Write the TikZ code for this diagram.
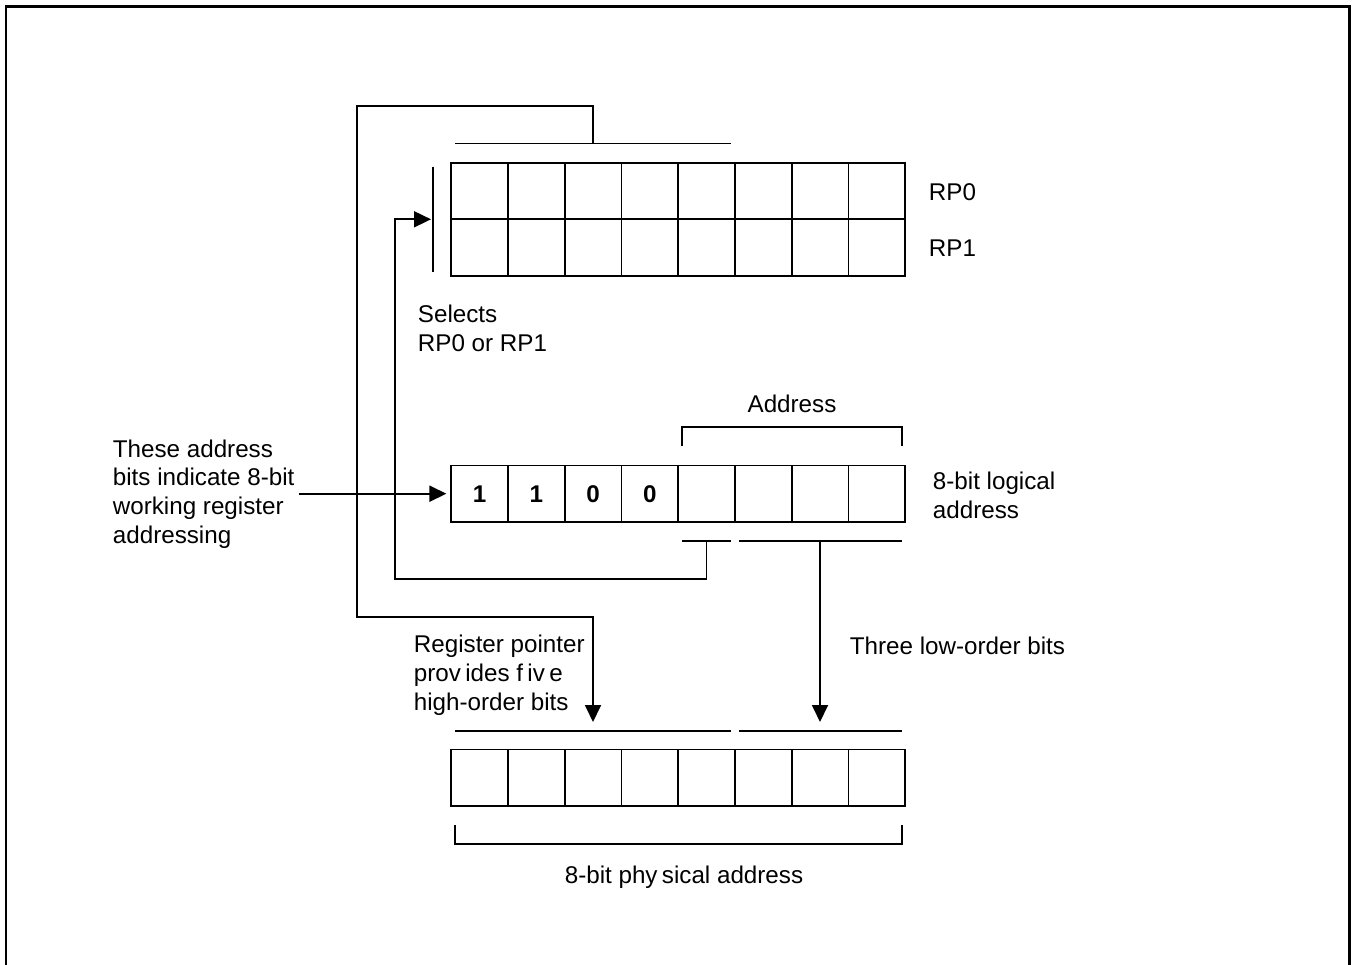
\documentclass[tikz,border=0pt]{standalone}
\usepackage{fontspec}
\setmainfont{Liberation Sans}
\usetikzlibrary{arrows.meta}
\newcommand{\gp}{\hspace{0.18em}}
\begin{document}
\begin{tikzpicture}[x=1pt,y=-1pt,line width=1.8pt,
  cell/.style={draw,minimum width=56.75pt,minimum height=56.6pt,inner sep=0pt,
    font=\fontsize{24.2}{28.8}\selectfont\bfseries},
  lbl/.style={inner sep=0pt,font=\fontsize{24.2}{28.8}\selectfont,align=left},
  arr/.style={-{Triangle[length=17pt,width=16pt]}},
  frame/.style={line width=2.8pt}]
\useasboundingbox (0,0) rectangle (1352,965);
% outer frame (open at the bottom)
\draw[frame] (6,980) -- (6,6.5) -- (1349.5,6.5) -- (1349.5,980);

% register cells
\foreach \i in {1,...,8} {
  \node[cell] (rpa-\i) at ({451.3+(\i-0.5)*56.75},191) {};
  \node[cell] (rpb-\i) at ({451.3+(\i-0.5)*56.75},247.7) {};
  \node[cell] (pa-\i)  at ({451.3+(\i-0.5)*56.75},777.8) {};
}
\node[cell] (la-1) at ({451.3+0.5*56.75},493.7) {1};
\node[cell] (la-2) at ({451.3+1.5*56.75},493.7) {1};
\node[cell] (la-3) at ({451.3+2.5*56.75},493.7) {0};
\node[cell] (la-4) at ({451.3+3.5*56.75},493.7) {0};
\foreach \i in {5,...,8} {
  \node[cell] (la-\i) at ({451.3+(\i-0.5)*56.75},493.7) {};
}

% labels
\node[lbl,anchor=west] (rp0) at (928,192) {RP0};
\node[lbl,anchor=west] (rp1) at (928,248) {RP1};
\node[lbl,anchor=west] (sel) at (417,328) {Selects\\RP0 or RP1};
\node[lbl] (addr) at (792,404) {Address};
\node[lbl,anchor=west] (these) at (112,494) {These address\\bits indicate 8-bit\\working register\\addressing};
\node[lbl,anchor=west] (logical) at (932,495) {8-bit logical\\address};
\node[lbl,anchor=west] (regp) at (413,675) {Register pointer\\prov\gp ides f\gp iv\gp e\\high-order bits};
\node[lbl,anchor=west] (three) at (849,646) {Three low-order bits};
\node[lbl] (phys) at (684,877) {8-bit phy\gp sical address};

% coordinates for bars, brackets and bends
\coordinate (tbL) at (455,143.5);
\coordinate (tbR) at (731,143.5);
\coordinate (tbM) at (593,143.5);
\coordinate (loopTL) at (357,106);
\coordinate (loopBL) at (357,617);
\coordinate (hiTip) at (593,722);
\coordinate (selT) at (432.7,166.7);
\coordinate (selB) at (432.7,272);
\coordinate (selIn) at (431,219.3);
\coordinate (fbL) at (682,541);
\coordinate (fbR) at (731,541);
\coordinate (fbM) at (706.5,541);
\coordinate (fbC) at (395,579);
\coordinate (lbL) at (739,541);
\coordinate (lbR) at (902,541);
\coordinate (lbM) at (820,541);
\coordinate (loTip) at (820,722);
\coordinate (pbL) at (455,730.7);
\coordinate (pbR) at (731,730.7);
\coordinate (qbL) at (739,730.7);
\coordinate (qbR) at (902,730.7);

% bars
\draw (tbL) -- (tbR);
\draw (selT) -- (selB);
\draw (fbL) -- (fbR);
\draw (lbL) -- (lbR);
\draw (pbL) -- (pbR);
\draw (qbL) -- (qbR);

% brackets
\draw (682,446) -- (682,427.3) -- (902,427.3) -- (902,446);
\draw (455,825.3) -- (455,844) -- (902,844) -- (902,825.3);

% connectors
\draw[arr] (tbM) |- (loopTL) -- (loopBL) -| (hiTip);
\draw[arr] (fbM) |- (fbC) |- (selIn);
\draw[arr] (lbM) -- (loTip);
\draw[arr] (these.east |- la-1.west) ++(4,0) -- ([xshift=-4pt]la-1.west);
\end{tikzpicture}
\end{document}
